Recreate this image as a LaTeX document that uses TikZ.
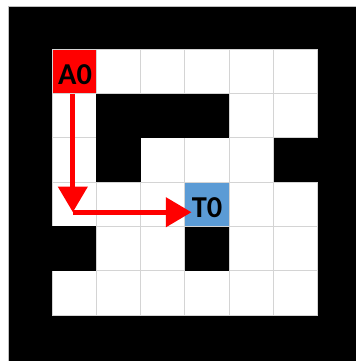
\documentclass[tikz,border=0pt]{standalone}
\usepackage{fontspec}
\setsansfont{Carlito}
\usetikzlibrary{arrows.meta}
\definecolor{tblue}{HTML}{5B9BD5}
\definecolor{gridgray}{HTML}{D4D4D4}

\begin{document}
\begin{tikzpicture}[>={Triangle[length=16.5pt,width=18.5pt]},font=\sffamily\bfseries\fontsize{19.5}{21}\selectfont,
  cellbox/.style={minimum size=1cm,inner sep=0pt,draw=gridgray,line width=0.6pt},
  route/.style={->,red,line width=3.2pt}]
\useasboundingbox (-1.174,-1.038) rectangle (6.862,7.111);
\fill[white] (-1.174,-1.038) rectangle (6.862,7.111);
\draw[gray!50,fill=black,line width=0.5pt] (-0.993,-1.2) rectangle (7,6.975);
% open cells of the maze
\foreach \x in {0,...,5}
  \foreach \y in {0,...,5}
    \draw[gridgray,line width=0.6pt,fill=white] (\x,\y) rectangle ++(1,1);
% walls
\foreach \x/\y in {1/4,2/4,3/4,1/3,5/3,0/1,3/1}
  \fill (\x,\y) rectangle ++(1,1);
\node[cellbox,fill=red] (a0) at (0.5,5.5) {};
\node[inner sep=0pt] (a0txt) at (0.52,5.43) {A0};
\node[cellbox,fill=tblue] (t0) at (3.5,2.5) {};
\node[inner sep=0pt] (t0txt) at (3.5,2.42) {T0};
\coordinate (bend) at (0.47,2.32);
\draw[route] ([xshift=-0.03cm]a0.south) -- (bend);
\draw[route] (bend) -- (bend -| t0txt.west);
\end{tikzpicture}
\end{document}
